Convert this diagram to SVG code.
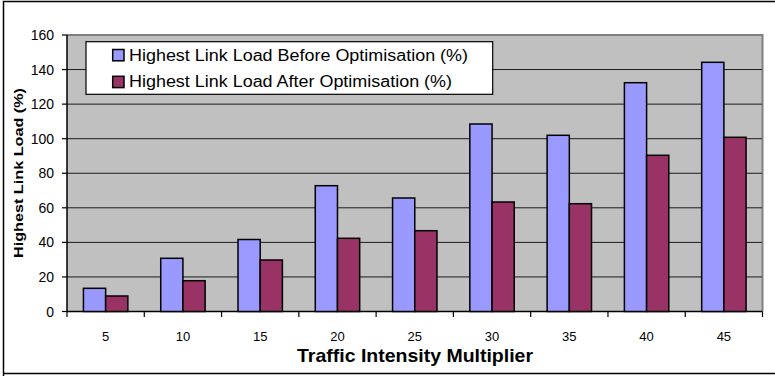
<svg xmlns="http://www.w3.org/2000/svg" width="775" height="376" viewBox="0 0 775 376">
<style>
.t{font-family:"Liberation Sans",Arial,sans-serif;fill:#000}
.yl{font-size:14px;text-anchor:end}
.xl{font-size:13px;text-anchor:middle}
.grid{stroke:#1a1a1a;stroke-width:1}
.tick{stroke:#000;stroke-width:1.2}
.b{fill:#9999FF;stroke:#000;stroke-width:1.5}
.m{fill:#993366;stroke:#000;stroke-width:1.5}
</style>
<rect x="0" y="0" width="775" height="376" fill="#fff"/>
<path d="M3.5,376 V1.5 H776 M3.5,373.5 H776" fill="none" stroke="#000" stroke-width="1.5"/>
<g id="plot">
<rect x="67" y="35" width="695.5" height="276.5" fill="#C0C0C0"/>
<path d="M67,35 H762.5 V311.5" fill="none" stroke="#808080" stroke-width="2"/>
<g class="grid">
<line x1="67" y1="69.56" x2="762" y2="69.56"/>
<line x1="67" y1="104.13" x2="762" y2="104.13"/>
<line x1="67" y1="138.69" x2="762" y2="138.69"/>
<line x1="67" y1="173.25" x2="762" y2="173.25"/>
<line x1="67" y1="207.81" x2="762" y2="207.81"/>
<line x1="67" y1="242.38" x2="762" y2="242.38"/>
<line x1="67" y1="276.94" x2="762" y2="276.94"/>
</g>
</g>
<g id="axes">
<path d="M67,35 V311.5 H762.5" fill="none" stroke="#000" stroke-width="1.5"/>
<g class="tick">
<line x1="62" y1="35" x2="67" y2="35"/>
<line x1="62" y1="69.56" x2="67" y2="69.56"/>
<line x1="62" y1="104.13" x2="67" y2="104.13"/>
<line x1="62" y1="138.69" x2="67" y2="138.69"/>
<line x1="62" y1="173.25" x2="67" y2="173.25"/>
<line x1="62" y1="207.81" x2="67" y2="207.81"/>
<line x1="62" y1="242.38" x2="67" y2="242.38"/>
<line x1="62" y1="276.94" x2="67" y2="276.94"/>
<line x1="62" y1="311.5" x2="67" y2="311.5"/>
<line x1="67" y1="311.5" x2="67" y2="317"/>
<line x1="144.28" y1="311.5" x2="144.28" y2="317"/>
<line x1="221.56" y1="311.5" x2="221.56" y2="317"/>
<line x1="298.84" y1="311.5" x2="298.84" y2="317"/>
<line x1="376.12" y1="311.5" x2="376.12" y2="317"/>
<line x1="453.4" y1="311.5" x2="453.4" y2="317"/>
<line x1="530.68" y1="311.5" x2="530.68" y2="317"/>
<line x1="607.96" y1="311.5" x2="607.96" y2="317"/>
<line x1="685.24" y1="311.5" x2="685.24" y2="317"/>
<line x1="762.5" y1="311.5" x2="762.5" y2="317"/>
</g>
<g class="t yl">
<text x="54" y="40">160</text>
<text x="54" y="74.6">140</text>
<text x="54" y="109.1">120</text>
<text x="54" y="143.7">100</text>
<text x="54" y="178.3">80</text>
<text x="54" y="212.8">60</text>
<text x="54" y="247.4">40</text>
<text x="54" y="281.9">20</text>
<text x="54" y="316.5">0</text>
</g>
<g class="t xl">
<text x="105.64" y="340.8">5</text>
<text x="182.92" y="340.8">10</text>
<text x="260.2" y="340.8">15</text>
<text x="337.48" y="340.8">20</text>
<text x="414.76" y="340.8">25</text>
<text x="492.04" y="340.8">30</text>
<text x="569.32" y="340.8">35</text>
<text x="646.6" y="340.8">40</text>
<text x="723.88" y="340.8">45</text>
</g>
<text class="t" x="415" y="362" font-size="19" font-weight="bold" text-anchor="middle" textLength="236" lengthAdjust="spacingAndGlyphs">Traffic Intensity Multiplier</text>
<text class="t" transform="translate(22.7,173) rotate(-90)" x="0" y="0" font-size="12.5" font-weight="bold" text-anchor="middle" textLength="170" lengthAdjust="spacingAndGlyphs">Highest Link Load (%)</text>
</g>
<g id="bars-before">
<rect class="b" x="83.44" y="288.3" width="22.2" height="23.2"/>
<rect class="b" x="160.72" y="258.3" width="22.2" height="53.2"/>
<rect class="b" x="238" y="239.5" width="22.2" height="72"/>
<rect class="b" x="315.28" y="185.7" width="22.2" height="125.8"/>
<rect class="b" x="392.56" y="198" width="22.2" height="113.5"/>
<rect class="b" x="469.84" y="124" width="22.2" height="187.5"/>
<rect class="b" x="547.12" y="135.3" width="22.2" height="176.2"/>
<rect class="b" x="624.4" y="82.7" width="22.2" height="228.8"/>
<rect class="b" x="701.68" y="62.3" width="22.2" height="249.2"/>
</g>
<g id="bars-after">
<rect class="m" x="105.64" y="296" width="22.2" height="15.5"/>
<rect class="m" x="182.92" y="280.7" width="22.2" height="30.8"/>
<rect class="m" x="260.2" y="260" width="22.2" height="51.5"/>
<rect class="m" x="337.48" y="238.3" width="22.2" height="73.2"/>
<rect class="m" x="414.76" y="230.7" width="22.2" height="80.8"/>
<rect class="m" x="492.04" y="202" width="22.2" height="109.5"/>
<rect class="m" x="569.32" y="203.7" width="22.2" height="107.8"/>
<rect class="m" x="646.6" y="155.3" width="22.2" height="156.2"/>
<rect class="m" x="723.88" y="137.3" width="22.2" height="174.2"/>
</g>
<g id="legend">
<rect x="86" y="41.7" width="406.7" height="52.6" fill="#fff" stroke="#000" stroke-width="1.2"/>
<rect class="b" x="112.7" y="49.5" width="11.3" height="11.3" stroke-width="1.2"/>
<rect class="m" x="112.7" y="76.3" width="11.3" height="11.3" stroke-width="1.2"/>
<text class="t" x="129" y="61" font-size="16" textLength="339" lengthAdjust="spacingAndGlyphs">Highest Link Load Before Optimisation (%)</text>
<text class="t" x="129" y="86.7" font-size="16" textLength="323" lengthAdjust="spacingAndGlyphs">Highest Link Load After Optimisation (%)</text>
</g>
</svg>
